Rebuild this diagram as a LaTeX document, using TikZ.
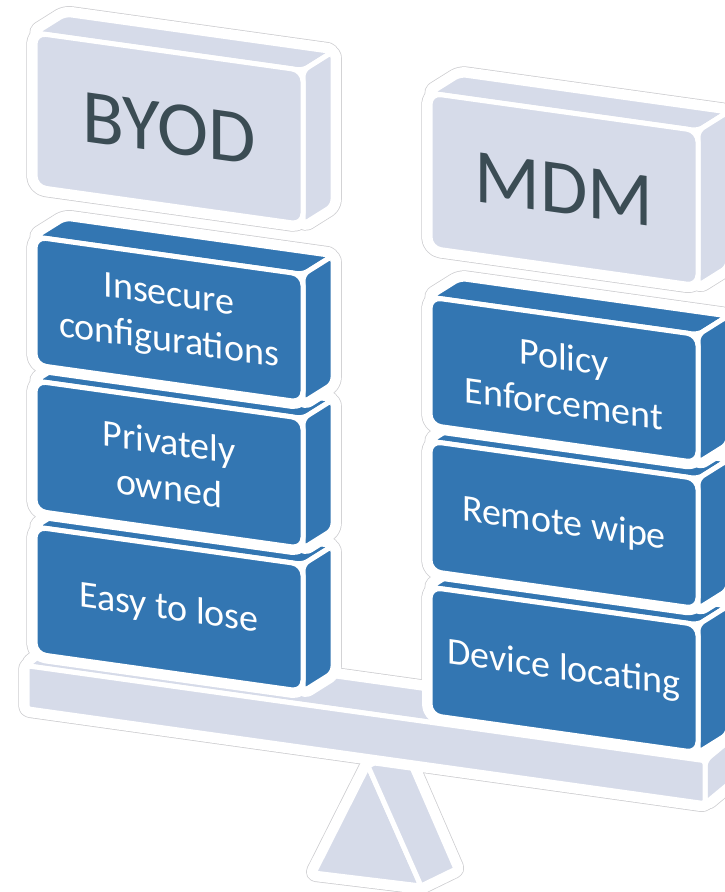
\documentclass[tikz,border=0pt]{standalone}
\usepackage{fontspec}
\setmainfont{Carlito}
\begin{document}

\definecolor{blockblue}{RGB}{51,118,178}
\definecolor{lav}{RGB}{214,219,233}
\definecolor{slate}{RGB}{59,76,84}
\definecolor{halogray}{RGB}{205,205,208}

\tikzset{
  halo/.style={draw=halogray, line width=17.5pt, fill=white, line join=round},
  pad/.style={draw=white, line width=16pt, fill=white, line join=round},
  face/.style={draw=white, line width=5pt, fill=#1, line join=round},
  bluetext/.style={transform shape, text=white, align=center, inner sep=0pt,
    font=\fontsize{38}{46}\selectfont},
  greytext/.style={transform shape, text=slate, inner sep=0pt,
    font=\fontsize{77}{90}\selectfont},
}

% depth of a block (towards the back, up and to the right)
\newcommand\blockdx{30}
\newcommand\blockdv{-23}
\newcommand\drawpass{0}

% three faces of a slab: #1 u, #2 v, #3 width, #4 height, #5 colour,
% #6 depth u, #7 depth v, #8 style, #9 front corner radius
\newcommand\slabfaces[9]{%
  \path[#8=#5, rounded corners=6pt] (#1,#2) -- ++(#6,#7) -- ++(#3,0) -- (#1+#3,#2) -- cycle;
  \path[#8=#5, rounded corners=6pt] (#1+#3,#2) -- ++(#6,#7) -- ++(0,#4) -- (#1+#3,#2+#4) -- cycle;
  \path[#8=#5, rounded corners=#9] (#1,#2) rectangle ++(#3,#4);
}

% a slab: outline pass, or white margin followed by the coloured faces
\newcommand\slab[8]{%
  \ifnum\drawpass=0
    \slabfaces{#1}{#2}{#3}{#4}{#5}{#6}{#7}{halo}{#8}%
  \else
    \slabfaces{#1}{#2}{#3}{#4}{#5}{#6}{#7}{pad}{#8}%
    \slabfaces{#1}{#2}{#3}{#4}{#5}{#6}{#7}{face}{#8}%
  \fi
}

% labelled block: #1 u, #2 v, #3 width, #4 height, #5 colour, #6 name, #7 text style, #8 text
\newcommand\block[8]{%
  \slab{#1}{#2}{#3}{#4}{#5}{\blockdx}{\blockdv}{11pt}%
  \ifnum\drawpass=1
    \node[#7] (#6) at (#1+#3/2,#2+#4/2) {#8};
  \fi
}

\newcommand\fulcrum[1]{%
  \path[#1=lav, rounded corners=2pt] (368,766) -- (314,873) -- (421,886) -- cycle;
  \path[#1=lav, rounded corners=2pt] (368,766) -- (404,749) -- (456,869) -- (421,886) -- cycle;
}

\newcommand\allshapes{%
  \ifnum\drawpass=0 \fulcrum{halo}\else \fulcrum{pad}\fulcrum{face}\fi
  \begin{scope}[yslant=-0.14]
    % beam
    \slab{27}{662}{678}{43}{lav}{34}{-33}{3pt}
    % left stack
    \block{35}{522}{268}{127}{blockblue}{easy}{bluetext}{Easy to lose}
    \block{35}{376}{268}{130}{blockblue}{private}{bluetext}{Privately\\owned}
    \block{35}{232}{268}{128}{blockblue}{insecure}{bluetext}{Insecure\\configurations}
    \block{35}{28}{268}{154}{lav}{byod}{greytext}{BYOD}
    % right stack
    \block{430}{527}{268}{128}{blockblue}{locate}{bluetext}{Device locating}
    \block{430}{381}{268}{130}{blockblue}{wipe}{bluetext}{Remote wipe}
    \block{430}{237}{268}{128}{blockblue}{policy}{bluetext}{Policy\\Enforcement}
    \block{430}{33}{268}{155}{lav}{mdm}{greytext}{MDM}
  \end{scope}
}

\begin{tikzpicture}[x=1pt,y=-1pt]
  \useasboundingbox (0,0) rectangle (725,892);
  \clip (0,0) rectangle (725,892);
  % thin grey outline round the whole balance
  \renewcommand\drawpass{0}
  \allshapes
  % each shape with its white margin, back to front
  \renewcommand\drawpass{1}
  \allshapes
\end{tikzpicture}
\end{document}
